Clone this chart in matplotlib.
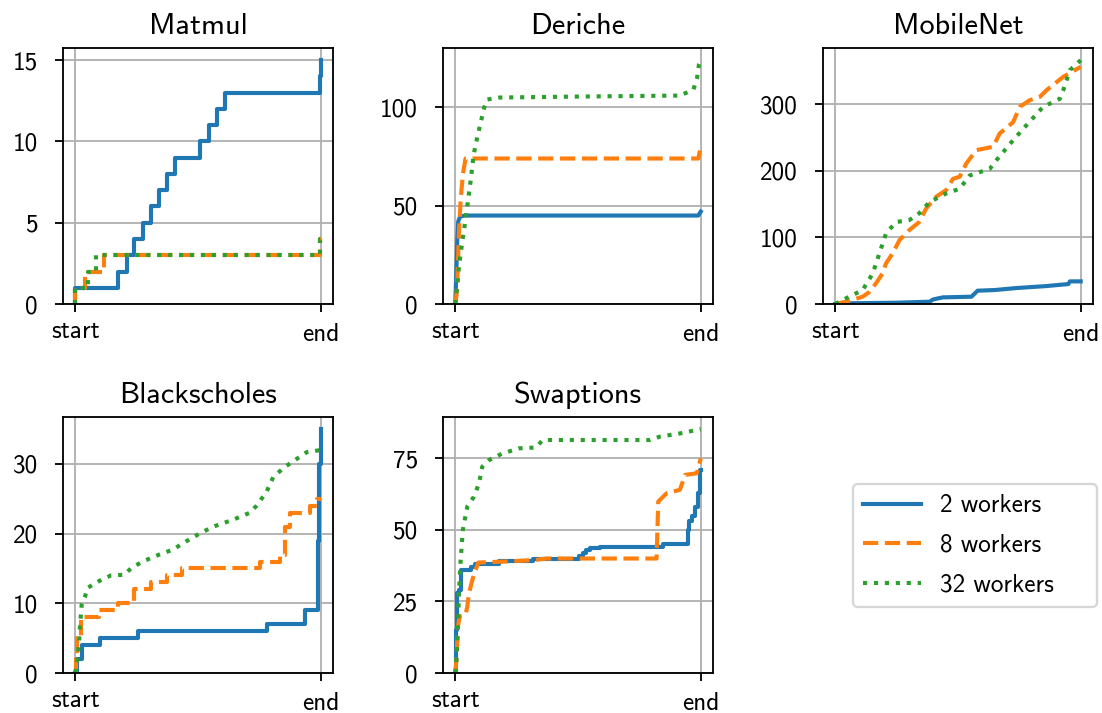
import matplotlib.pyplot as plt
from matplotlib.ticker import MultipleLocator
from matplotlib.transforms import ScaledTranslation

plt.rcParams['font.family'] = 'cmss10'
plt.rcParams['font.size'] = 11
plt.rcParams['axes.unicode_minus'] = False
plt.rcParams['axes.formatter.use_mathtext'] = False
plt.rcParams['lines.linewidth'] = 1.8
plt.rcParams['ytick.major.pad'] = 7.5

benchmarks = ["Matmul", "Deriche", "MobileNet", "Blackscholes", "Swaptions"]
labels = ["2 workers", "8 workers", "32 workers"]
colors = ["tab:blue", "tab:orange", "tab:green"]
linestyles = ["-", "--", ":"]
ytick_steps = [5, 50, 100, 10, 25]

# Matmul
matmul_2_t = [0, 0, 0.175, 0.209, 0.240, 0.274, 0.308, 0.342, 0.374, 0.407, 0.509, 0.543, 0.577, 0.611, 0.997, 1.0]
matmul_2_y = [0, 1, 2, 3, 4, 5, 6, 7, 8, 9, 10, 11, 12, 13, 14, 15]
matmul_8_t = [0, 0, 0.04, 0.115, 0.995, 1.0]
matmul_8_y = [0, 1, 2, 3, 4, 4]
matmul_32_t = [0, 0, 0.05, 0.083, 0.995, 1.0]
matmul_32_y = [0, 1, 2, 3, 4, 4]

# Deriche
deriche_2_t = [0, 0.004, 0.008, 0.012, 0.02, 0.04, 0.99, 1.0]
deriche_2_y = [0, 15, 32, 42, 44.5, 45, 45, 47]
deriche_8_t = [0, 0.004, 0.008, 0.015, 0.022, 0.031, 0.042, 0.99, 1.0]
deriche_8_y = [0, 3, 10, 36, 53, 66, 74, 74, 80]
deriche_32_t = [0, 0.008, 0.015, 0.03, 0.042, 0.063, 0.075, 0.09, 0.105, 0.118, 0.13, 0.18,
                0.5, 0.915, 0.97, 0.985, 0.993, 1.0]
deriche_32_y = [0, 9, 19, 33, 43, 63, 76, 85, 93, 100, 104, 105, 105.5, 106, 109, 115, 122, 124]

# MobileNet
mobilenet_2_t = [0, 0.03, 0.25, 0.384, 0.40, 0.439, 0.555, 0.58, 0.65, 0.738, 0.861, 0.95, 0.956, 1.0]
mobilenet_2_y = [0, 1, 2, 3.5, 7, 10, 11, 20, 21, 24, 27, 30, 34, 34]
mobilenet_8_t = [0, 0.044, 0.112, 0.139, 0.166, 0.193, 0.207, 0.234, 0.262, 0.302, 0.342, 0.37,
                 0.411, 0.452, 0.48, 0.507, 0.534, 0.575, 0.643, 0.67, 0.725, 0.752, 0.793,
                 0.834, 0.861, 0.929, 1.0]
mobilenet_8_y = [0, 3.5, 11, 18, 31, 46, 61, 76, 96, 111, 123, 143, 161, 171, 188, 191, 211,
                 231, 236, 256, 273, 296, 306, 311, 321, 341, 356]
mobilenet_32_t = [0, 0.044, 0.112, 0.153, 0.18, 0.207, 0.248, 0.302, 0.342, 0.384, 0.452, 0.507,
                  0.548, 0.63, 0.657, 0.725, 0.766, 0.847, 0.915, 0.929, 0.956, 1.0]
mobilenet_32_y = [0, 8.5, 21, 46, 76, 106, 123, 126, 136, 153, 166, 173, 193, 203, 216, 246,
                  263, 296, 308, 321, 351, 366]

# Blackscholes
black_2_t = [0, 0.005, 0.026, 0.1, 0.254, 0.779, 0.936, 0.99, 0.993, 1.0]
black_2_y = [0, 2, 4, 5, 6, 7, 9, 19, 30, 35]
black_8_t = [0, 0.003, 0.008, 0.022, 0.097, 0.172, 0.24, 0.31, 0.374, 0.435, 0.752, 0.834,
             0.854, 0.874, 0.956, 0.984, 1.0]
black_8_y = [0, 2, 5, 8, 9, 10, 12, 13, 14, 15, 16, 17, 21, 23, 24, 25, 25]
black_32_t = [0, 0.008, 0.015, 0.019, 0.026, 0.04, 0.049, 0.097, 0.145, 0.2, 0.226, 0.274,
              0.342, 0.397, 0.452, 0.506, 0.561, 0.643, 0.711, 0.738, 0.779, 0.806, 0.847,
              0.888, 0.943, 1.0]
black_32_y = [0, 1.9, 4.3, 6.7, 9.8, 11, 12.2, 13.2, 14, 14.1, 15, 16, 17, 17.7, 18.9, 20, 21,
              22, 23, 24, 26, 28.1, 29.4, 30.4, 31.7, 32]

# Swaptions
swap_2_t = [0, 0.003, 0.008, 0.015, 0.022, 0.063, 0.08, 0.18, 0.315, 0.506, 0.52, 0.533, 0.547,
            0.588, 0.847, 0.95, 0.954, 0.963, 0.977, 0.99, 0.997, 1.0]
swap_2_y = [0, 15, 28, 29, 36, 37, 38, 39, 40, 41, 42, 43, 43.5, 44, 45, 50, 53, 55, 58, 63, 71, 71]
swap_8_t = [0, 0.005, 0.011, 0.018, 0.042, 0.049, 0.056, 0.07, 0.083, 0.094, 0.22, 0.329, 0.37,
            0.82, 0.827, 0.861, 0.915, 0.936, 0.984, 1.0]
swap_8_y = [0, 4.7, 16.3, 19.8, 20.3, 23.2, 27.9, 32.6, 36, 38.6, 39, 39.5, 40, 40, 59.9, 62.8,
            64, 69.2, 69.8, 75]
swap_32_t = [0, 0.005, 0.011, 0.015, 0.022, 0.031, 0.049, 0.076, 0.097, 0.11, 0.138, 0.192,
             0.261, 0.329, 0.356, 0.793, 0.834, 0.915, 1.0]
swap_32_y = [0, 4.7, 16.3, 27.9, 39.5, 50, 58.1, 61.6, 66.3, 72.1, 74.4, 76.7, 78.5, 78.8, 81.4,
             81.4, 82.6, 83.7, 85.2]

series = [
    [(matmul_2_t, matmul_2_y), (matmul_8_t, matmul_8_y), (matmul_32_t, matmul_32_y)],
    [(deriche_2_t, deriche_2_y), (deriche_8_t, deriche_8_y), (deriche_32_t, deriche_32_y)],
    [(mobilenet_2_t, mobilenet_2_y), (mobilenet_8_t, mobilenet_8_y), (mobilenet_32_t, mobilenet_32_y)],
    [(black_2_t, black_2_y), (black_8_t, black_8_y), (black_32_t, black_32_y)],
    [(swap_2_t, swap_2_y), (swap_8_t, swap_8_y), (swap_32_t, swap_32_y)],
]
drawstyles = [
    ["steps-post", "steps-post", "steps-post"],
    ["default", "default", "default"],
    ["default", "default", "default"],
    ["steps-post", "steps-post", "default"],
    ["steps-post", "default", "default"],
]

fig, axes = plt.subplots(2, 3, figsize=(1102 / 165, 713 / 165), dpi=165)
fig.subplots_adjust(left=0.0572, right=0.9918, bottom=0.0561, top=0.9327,
                    wspace=0.407, hspace=0.441)
axes = axes.flatten()

for i, name in enumerate(benchmarks):
    ax = axes[i]
    for j in range(3):
        t, y = series[i][j]
        ax.plot(t, y, color=colors[j], linestyle=linestyles[j],
                drawstyle=drawstyles[i][j], label=labels[j])
    ax.set_title(name)
    ax.set_ylim(bottom=0)
    ax.yaxis.set_major_locator(MultipleLocator(ytick_steps[i]))
    ax.set_xticks([0, 1])
    ax.set_xticklabels(["start", "end"])
    ax.grid(True)
    # nudge "end" down a little, like the original
    lab = ax.get_xticklabels()[1]
    lab.set_transform(lab.get_transform() + ScaledTranslation(0, -2.5 / 165, fig.dpi_scale_trans))

axes[5].axis("off")
handles, labs = axes[0].get_legend_handles_labels()
# the original legend box has a wide empty margin on the right
labs[-1] = labs[-1] + "    "
fig.legend(handles, labs, loc="center", bbox_to_anchor=(975 / 1102, 1 - 545.5 / 713),
           handlelength=2.3, handletextpad=0.75, labelspacing=0.66)

plt.savefig("out.png", dpi=165)
